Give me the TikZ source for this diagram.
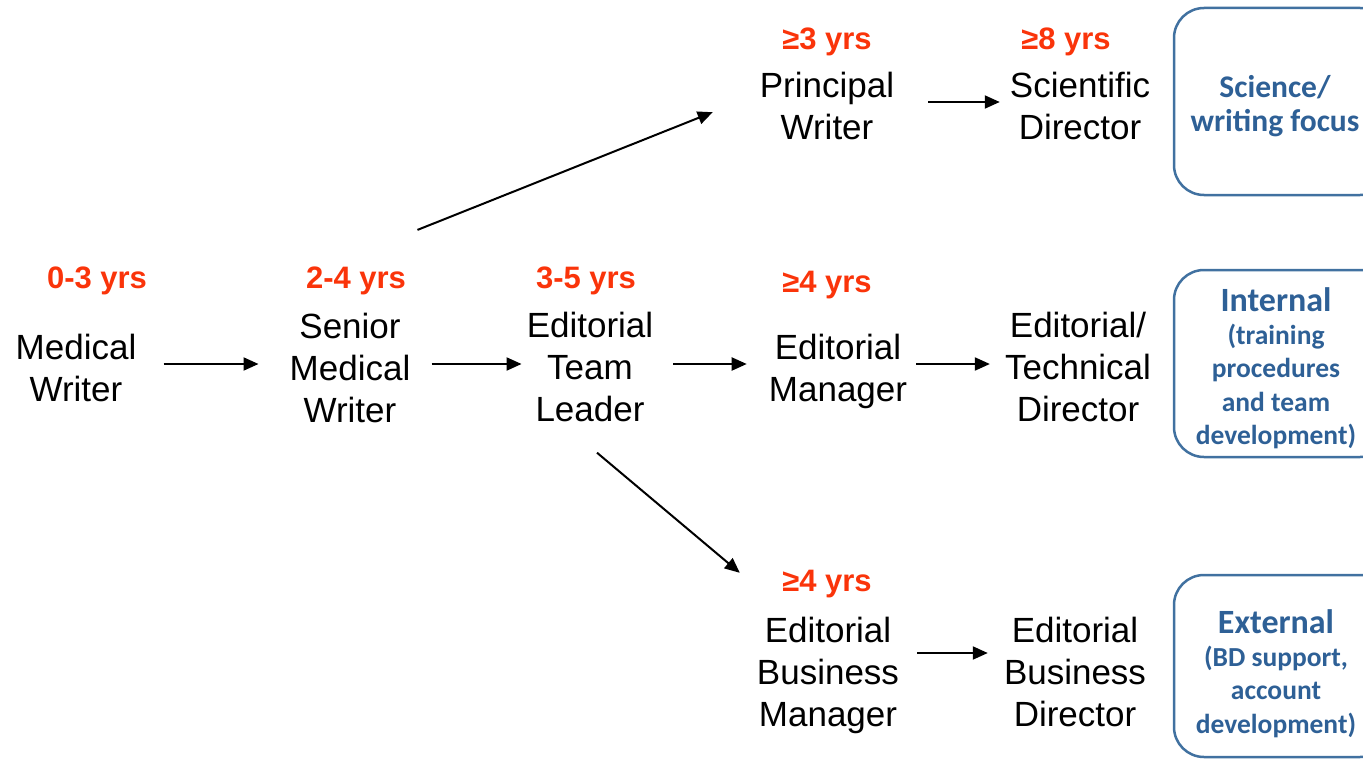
\documentclass[tikz,border=0pt]{standalone}
\usepackage{fontspec}
\setmainfont{Liberation Sans}
\newfontfamily\calibri{Carlito}
\usetikzlibrary{arrows.meta}
\definecolor{redyrs}{RGB}{250,52,10}
\definecolor{boxblue}{RGB}{65,113,160}
\definecolor{txtblue}{RGB}{46,96,150}
\newcommand{\stk}[1]{\begin{tabular}[t]{@{}c@{}}#1\end{tabular}}
\begin{document}
\begin{tikzpicture}[x=1pt,y=-1pt,
  role/.style={anchor=base,inner sep=0pt,font=\fontsize{35}{42}\selectfont},
  yrs/.style={anchor=base,inner sep=0pt,text=redyrs,font=\bfseries\fontsize{31}{36}\selectfont},
  arr/.style={-{Triangle[length=15pt,width=13pt]},line width=2pt},
  tbox/.style={draw=boxblue,line width=2.5pt,rounded corners=30pt,minimum width=216pt,inner sep=0pt},
  btitle/.style={anchor=base,inner sep=0pt,text=txtblue,font=\calibri\bfseries\fontsize{34}{38}\selectfont},
  bsub/.style={anchor=base,inner sep=0pt,text=txtblue,font=\calibri\bfseries\fontsize{27.5}{33.5}\selectfont},
  bone/.style={anchor=base,inner sep=0pt,text=txtblue,font=\calibri\bfseries\fontsize{31.5}{35}\selectfont}]
\useasboundingbox (0,0) rectangle (1363,760);
\begin{scope}
\clip (0,0) rectangle (1363,760);

% rows for horizontal connectors
\coordinate (rowT) at (0,102);
\coordinate (rowM) at (0,364);
\coordinate (rowB) at (0,653);

% years
\node[yrs] (y1) at (97,288) {0-3 yrs};
\node[yrs] (y2) at (356,288) {2-4 yrs};
\node[yrs] (y3) at (586,288) {3-5 yrs};
\node[yrs] (y4) at (827,292) {≥4 yrs};
\node[yrs] (y5) at (827,50) {≥3 yrs};
\node[yrs] (y6) at (1066,50) {≥8 yrs};
\node[yrs] (y7) at (827,591) {≥4 yrs};

% roles
\node[role] (mw) at (76,359.5) {\stk{Medical\\Writer}};
\node[role] (smw) at (350,338.5) {\stk{Senior\\Medical\\Writer}};
\node[role] (etl) at (590,337.5) {\stk{Editorial\\Team\\Leader}};
\node[role] (em) at (838,359.5) {\stk{Editorial\\Manager}};
\node[role] (etd) at (1078,337.5) {\stk{Editorial/\\Technical\\Director}};
\node[role] (pw) at (827,97) {\stk{Principal\\Writer}};
\node[role] (sd) at (1080,97) {\stk{Scientific\\Director}};
\node[role] (ebm) at (828,642) {\stk{Editorial\\Business\\Manager}};
\node[role] (ebd) at (1075,642) {\stk{Editorial\\Business\\Director}};

% connectors
\draw[arr,shorten <=27pt,shorten >=31pt] (mw.east |- rowM) -- (smw.west |- rowM);
\draw[arr,shorten <=21pt,shorten >=5pt] (smw.east |- rowM) -- (etl.west |- rowM);
\draw[arr,shorten <=20pt,shorten >=22pt] (etl.east |- rowM) -- (em.west |- rowM);
\draw[arr,shorten <=9pt,shorten >=15pt] (em.east |- rowM) -- (etd.west |- rowM);
\draw[arr,shorten <=34pt,shorten >=10pt] (pw.east |- rowT) -- (sd.west |- rowT);
\draw[arr,shorten <=18pt,shorten >=16pt] (ebm.east |- rowB) -- (ebd.west |- rowB);
\draw[arr] ([shift={(7,-79)}]smw.north east) -- ([shift={(-47,-39.6)}]pw.south west);
\draw[arr] ([shift={(7,18.4)}]etl.south) -- ([shift={(-17,-39.6)}]ebm.north west);

% right-hand boxes
\node[tbox,minimum height=187pt] (b1) at (1282,101.5) {};
\node[tbox,minimum height=187pt] (b2) at (1282,363.5) {};
\node[tbox,minimum height=182pt] (b3) at (1282,666) {};
\node[bone] (t1) at (1275,97) {\stk{Science/\\writing focus}};
\node[btitle] (t2) at (1276,311) {Internal};
\node[bsub] (s2) at (1276,344) {\stk{(training\\procedures\\and team\\development)}};
\node[btitle] (t3) at (1276,633) {External};
\node[bsub] (s3) at (1276,666) {\stk{(BD support,\\account\\development)}};
\end{scope}
\end{tikzpicture}
\end{document}
